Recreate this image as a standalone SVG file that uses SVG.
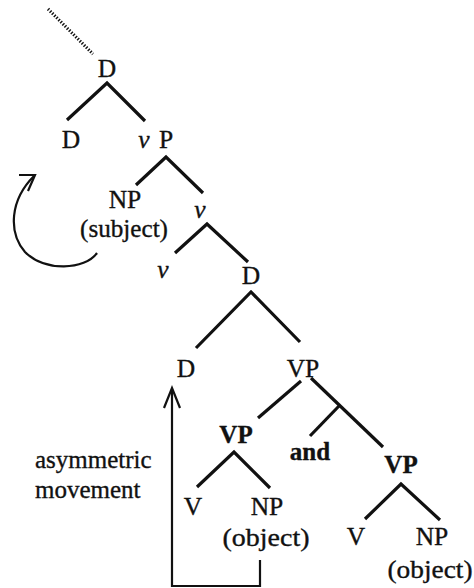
<svg xmlns="http://www.w3.org/2000/svg" width="474" height="588" viewBox="0 0 474 588">
<style>
text{font-family:"Liberation Serif","Times New Roman",serif;font-size:25.5px;fill:#111;stroke:#111;stroke-width:0.35;text-anchor:middle}
.b{font-weight:bold;font-size:25px}
.i{font-style:italic}
.l{text-anchor:start;font-size:25px}
.edge{stroke:#111;stroke-width:3.2;fill:none;stroke-linecap:butt}
.arr{stroke:#111;stroke-width:2.2;fill:none}
</style>
<rect width="474" height="588" fill="#fff"/>
<g id="connectors">
<line class="edge" x1="48" y1="9" x2="93" y2="54" stroke-dasharray="1.4 1.6"/>
<polyline class="edge" points="67,120 107,83 145,121"/>
<polyline class="edge" points="136,185 166,157 203,193"/>
<polyline class="edge" points="175,253 207,224 248,262"/>
<polyline class="edge" points="196,348 251,292 300,342"/>
<line class="edge" x1="301" y1="381" x2="258" y2="418"/>
<line class="edge" x1="311" y1="378" x2="383" y2="447"/>
<line class="edge" x1="339" y1="406" x2="310" y2="436"/>
<polyline class="edge" points="197,487 234,452 270,488"/>
<polyline class="edge" points="365,519 401,484 440,520"/>
<g id="subject-move">
<path class="arr" d="M97,253 C85,270 45,272 25,252 C8,232 10,200 34,176"/>
<polyline class="arr" points="19,175 35,175 28,191"/>
</g>
<g id="object-move">
<polyline class="arr" points="260,560 260,586 172,586 172,390"/>
<polyline class="arr" points="164,408 172,388 180,408"/>
</g>
</g>
<g id="n-D-top"><text x="107" y="77">D</text></g>
<g id="n-D1"><text x="71" y="148">D</text></g>
<g id="n-vP"><text class="i" x="144" y="148">v</text><text x="166" y="148">P</text></g>
<g id="n-NP-subj"><text x="125" y="208">NP</text><text x="124" y="237" textLength="88" lengthAdjust="spacingAndGlyphs">(subject)</text></g>
<g id="n-vbar"><text class="i" x="200" y="218">v</text></g>
<g id="n-v"><text class="i" x="163" y="278">v</text></g>
<g id="n-D2"><text x="251" y="284">D</text></g>
<g id="n-D3"><text x="186" y="377">D</text></g>
<g id="n-VP"><text x="303" y="377">VP</text></g>
<g id="n-VP1"><text class="b" x="236" y="443">VP</text></g>
<g id="n-and"><text class="b" x="310" y="460">and</text></g>
<g id="n-VP2"><text class="b" x="401" y="473">VP</text></g>
<g id="n-V1"><text x="193" y="515">V</text></g>
<g id="n-NP1"><text x="267" y="515">NP</text><text x="266" y="546" textLength="87" lengthAdjust="spacingAndGlyphs">(object)</text></g>
<g id="n-V2"><text x="356" y="545">V</text></g>
<g id="n-NP2"><text x="432" y="545">NP</text><text x="430" y="578" textLength="85" lengthAdjust="spacingAndGlyphs">(object)</text></g>
<g id="label-asym"><text class="l" x="35" y="468">asymmetric</text><text class="l" x="35" y="498">movement</text></g>
</svg>
